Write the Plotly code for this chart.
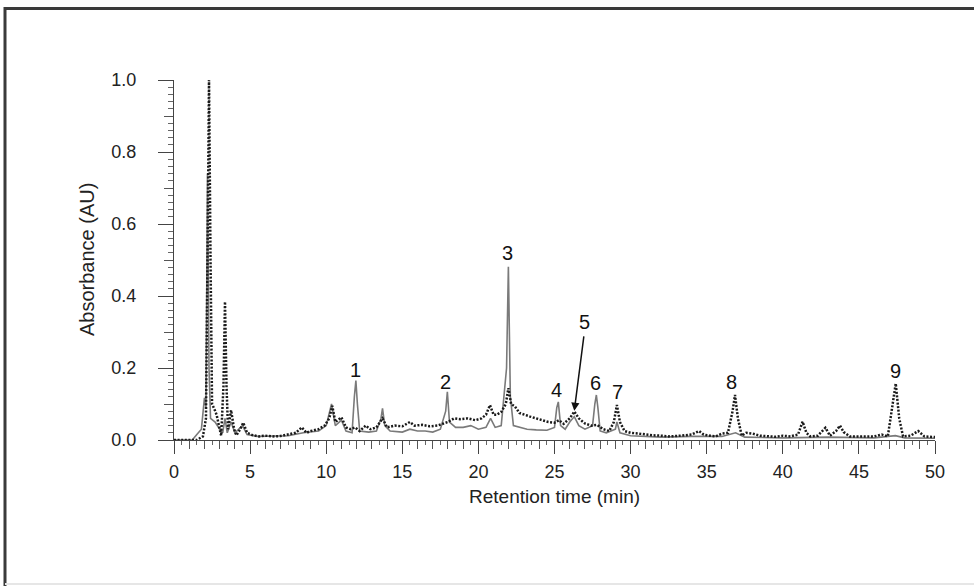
import plotly.graph_objects as go

# ---- data (retention time in min, absorbance in AU) ----
dotted_t = [0, 1.5, 1.9, 2.1, 2.2, 2.3, 2.4, 2.5, 2.68, 2.8, 2.95, 3.1, 3.25, 3.35, 3.45, 3.55,
            3.75, 3.95, 4.1, 4.35, 4.55, 4.8, 5.2, 5.6, 6.0, 6.5, 7.0, 7.5, 8.0, 8.4, 8.7, 9.0,
            9.5, 9.9, 10.2, 10.4, 10.6, 11.0, 11.3, 11.6, 11.9, 12.2, 12.6, 12.9, 13.3, 13.7,
            14.0, 14.5, 15.0, 15.5, 15.8, 16.3, 16.8, 17.3, 17.7, 18.0, 18.4, 18.8, 19.3, 19.8,
            20.2, 20.5, 20.76, 21.0, 21.2, 21.5, 21.8, 21.97, 22.15, 22.4, 22.7, 23.0, 23.4,
            23.8, 24.2, 24.6, 25.0, 25.3, 25.6, 26.0, 26.3, 26.6, 27.0, 27.4, 27.8, 28.2, 28.6,
            28.9, 29.1, 29.3, 29.6, 30.0, 30.5, 31.0, 31.5, 32.0, 32.5, 33.0, 33.5, 34.0, 34.5,
            34.8, 35.2, 35.6, 36.0, 36.4, 36.7, 36.86, 37.05, 37.3, 37.6, 38.0, 38.5, 39.0, 39.5,
            40.0, 40.5, 41.0, 41.3, 41.55, 41.8, 42.3, 42.8, 43.1, 43.5, 43.76, 44.0, 44.4, 45.0,
            45.5, 46.0, 46.5, 46.9, 47.2, 47.42, 47.65, 47.9, 48.4, 48.9, 49.3, 50.0]
dotted_v = [0.0, 0.0, 0.01, 0.06, 0.5, 1.0, 0.5, 0.1, 0.083, 0.07, 0.04, 0.012, 0.15, 0.384, 0.15, 0.03,
            0.083, 0.03, 0.013, 0.03, 0.048, 0.02, 0.013, 0.01, 0.012, 0.01, 0.011, 0.015, 0.02, 0.035, 0.02, 0.025,
            0.03, 0.04, 0.06, 0.095, 0.05, 0.063, 0.035, 0.03, 0.035, 0.025, 0.04, 0.03, 0.035, 0.06,
            0.035, 0.04, 0.038, 0.05, 0.04, 0.042, 0.038, 0.04, 0.045, 0.05, 0.06, 0.058, 0.06, 0.055,
            0.06, 0.07, 0.097, 0.07, 0.07, 0.078, 0.1, 0.144, 0.1, 0.093, 0.075, 0.07, 0.065,
            0.06, 0.055, 0.05, 0.048, 0.055, 0.045, 0.06, 0.079, 0.06, 0.046, 0.04, 0.042, 0.03, 0.025,
            0.05, 0.097, 0.05, 0.025, 0.02, 0.018, 0.015, 0.013, 0.012, 0.01, 0.011, 0.012, 0.015, 0.025,
            0.015, 0.012, 0.01, 0.018, 0.02, 0.08, 0.125, 0.06, 0.012, 0.02, 0.018, 0.012, 0.01, 0.009,
            0.012, 0.01, 0.015, 0.051, 0.02, 0.01, 0.012, 0.034, 0.012, 0.025, 0.04, 0.022, 0.01, 0.009,
            0.01, 0.01, 0.015, 0.01, 0.09, 0.157, 0.06, 0.01, 0.012, 0.025, 0.01, 0.008]

solid_t = [0, 1.2, 1.5, 1.8, 2.0, 2.1, 2.2, 2.3, 2.4, 2.7, 3.0, 3.2, 3.35, 3.5, 3.75, 4.0, 4.5, 4.8,
           5.5, 6.5, 7.5, 8.5, 9.5, 10.0, 10.35, 10.6, 11.0, 11.3, 11.7, 11.85, 11.95, 12.05, 12.2,
           12.8, 13.3, 13.6, 13.7, 13.85, 14.2, 15.0, 15.5, 16.0, 16.5, 17.0, 17.5, 17.85, 17.96,
           18.1, 18.5, 19.0, 19.5, 20.0, 20.5, 20.8, 21.1, 21.5, 21.85, 21.97, 22.1, 22.3, 22.7,
           23.2, 23.8, 24.5, 25.0, 25.15, 25.25, 25.4, 25.7, 26.0, 26.3, 26.6, 27.0, 27.5, 27.65,
           27.75, 27.85, 28.0, 28.4, 29.0, 29.1, 29.3, 30.0, 31.0, 32.0, 34.0, 36.0, 36.9, 37.5,
           40.0, 43.0, 46.0, 47.4, 48.0, 50.0]
solid_v = [0.0, 0.0, 0.015, 0.03, 0.117, 0.09, 0.74, 0.2, 0.06, 0.05, 0.03, 0.02, 0.06, 0.02, 0.05, 0.02, 0.04, 0.015,
           0.01, 0.01, 0.012, 0.02, 0.025, 0.04, 0.1, 0.04, 0.055, 0.025, 0.02, 0.12, 0.165, 0.1, 0.025,
           0.022, 0.025, 0.06, 0.088, 0.04, 0.025, 0.022, 0.03, 0.025, 0.025, 0.022, 0.03, 0.08, 0.134,
           0.05, 0.035, 0.035, 0.04, 0.03, 0.035, 0.06, 0.035, 0.04, 0.2, 0.481, 0.12, 0.04, 0.035,
           0.03, 0.028, 0.027, 0.035, 0.09, 0.106, 0.04, 0.03, 0.05, 0.065, 0.04, 0.03, 0.04, 0.1,
           0.125, 0.09, 0.025, 0.02, 0.03, 0.05, 0.02, 0.012, 0.01, 0.008, 0.01, 0.01, 0.02, 0.008,
           0.006, 0.008, 0.006, 0.012, 0.006, 0.005]

peak_labels = ["1", "2", "3", "4", "5", "6", "7", "8", "9"]
peak_label_t = [11.9, 17.87, 21.9, 25.1, 26.96, 27.72, 29.13, 36.64, 47.38]
peak_label_v = [0.194, 0.162, 0.519, 0.139, 0.328, 0.158, 0.134, 0.162, 0.193]
arrow_tip = (26.3, 0.081)
arrow_tail = (26.94, 0.292)

x_ticks = [0, 5, 10, 15, 20, 25, 30, 35, 40, 45, 50]
y_ticks = [0.0, 0.2, 0.4, 0.6, 0.8, 1.0]
y_mid_ticks = [0.1, 0.3, 0.5, 0.7, 0.9]
x_mid_ticks = [i for i in range(0, 51) if i % 5 != 0]

FONT = "Liberation Sans, Arial, Helvetica, sans-serif"

fig = go.Figure()
fig.add_trace(go.Scatter(x=solid_t, y=solid_v, mode="lines",
                         line=dict(color="#7a7a7a", width=1.6), hoverinfo="skip", showlegend=False))
fig.add_trace(go.Scatter(x=dotted_t, y=dotted_v, mode="lines",
                         line=dict(color="#1a1a1a", width=2.5, dash="2px,1.6px"),
                         hoverinfo="skip", showlegend=False))
# empty trace carrying the secondary tick axes
fig.add_trace(go.Scatter(x=[], y=[], xaxis="x2", yaxis="y2", hoverinfo="skip", showlegend=False))

annotations = []
for lab, t, v in zip(peak_labels, peak_label_t, peak_label_v):
    annotations.append(dict(x=t, y=v, text=lab, showarrow=False, xref="x", yref="y",
                            font=dict(size=20, color="#111", family=FONT),
                            xanchor="center", yanchor="middle"))
annotations.append(dict(x=arrow_tip[0], y=arrow_tip[1], ax=arrow_tail[0], ay=arrow_tail[1],
                        xref="x", yref="y", axref="x", ayref="y", text="", showarrow=True,
                        arrowhead=2, arrowsize=1.1, arrowwidth=1.5, arrowcolor="#111"))
annotations.append(dict(x=0.5, y=-0.158, xref="paper", yref="paper", text="Retention time (min)",
                        showarrow=False, font=dict(size=19, color="#222", family=FONT),
                        xanchor="center", yanchor="middle"))
annotations.append(dict(x=-0.1143, y=0.5, xref="paper", yref="paper", text="Absorbance (AU)",
                        showarrow=False, textangle=-90, font=dict(size=20, color="#222", family=FONT),
                        xanchor="center", yanchor="middle"))

shapes = [
    dict(type="line", xref="paper", yref="paper", x0=(4 - 174) / 761, x1=(980 - 174) / 761,
         y0=(440 - 8.5) / 360, y1=(440 - 8.5) / 360, line=dict(color="#3a3a3a", width=3)),
    dict(type="line", xref="paper", yref="paper", x0=(5 - 174) / 761, x1=(5 - 174) / 761,
         y0=(440 - 7) / 360, y1=(440 - 590) / 360, line=dict(color="#3a3a3a", width=3)),
    dict(type="line", xref="paper", yref="paper", x0=(5 - 174) / 761, x1=(980 - 174) / 761,
         y0=(440 - 584) / 360, y1=(440 - 584) / 360, line=dict(color="#e6e6e6", width=2)),
]

axis_common = dict(showgrid=False, zeroline=False, color="#333")

fig.update_layout(
    width=974, height=586,
    margin=dict(l=174, r=39, t=80, b=146),
    paper_bgcolor="white", plot_bgcolor="white",
    font=dict(family=FONT, size=18, color="#222"),
    xaxis=dict(range=[0, 50], tickvals=x_ticks, ticktext=[str(v) for v in x_ticks],
               ticks="outside", ticklen=13, tickwidth=1, tickcolor="#444",
               showline=True, linecolor="#444", linewidth=1,
               minor=dict(dtick=0.5, tick0=0, ticks="outside", ticklen=4, tickcolor="#666", tickwidth=1),
               tickfont=dict(size=18, color="#222"), ticklabelstandoff=2, **axis_common),
    yaxis=dict(range=[0, 1.0], tickvals=y_ticks, ticktext=["%.1f" % v for v in y_ticks],
               ticks="outside", ticklen=15, tickwidth=1, tickcolor="#444",
               showline=True, linecolor="#444", linewidth=1,
               minor=dict(dtick=0.02, tick0=0, ticks="outside", ticklen=5, tickcolor="#666", tickwidth=1),
               tickfont=dict(size=18, color="#222"), ticklabelstandoff=18, **axis_common),
    xaxis2=dict(range=[0, 50], overlaying="x", anchor="y", side="bottom", tickvals=x_mid_ticks,
                ticks="outside", ticklen=8, tickcolor="#555", tickwidth=1, showticklabels=False,
                showline=False, **axis_common),
    yaxis2=dict(range=[0, 1.0], overlaying="y", anchor="x", side="left", tickvals=y_mid_ticks,
                ticks="outside", ticklen=9, tickcolor="#555", tickwidth=1, showticklabels=False,
                showline=False, **axis_common),
    annotations=annotations,
    shapes=shapes,
)

fig.write_html("out.html", config={"displayModeBar": False},
               post_script="document.body.style.margin='0';document.body.style.overflow='hidden';")
